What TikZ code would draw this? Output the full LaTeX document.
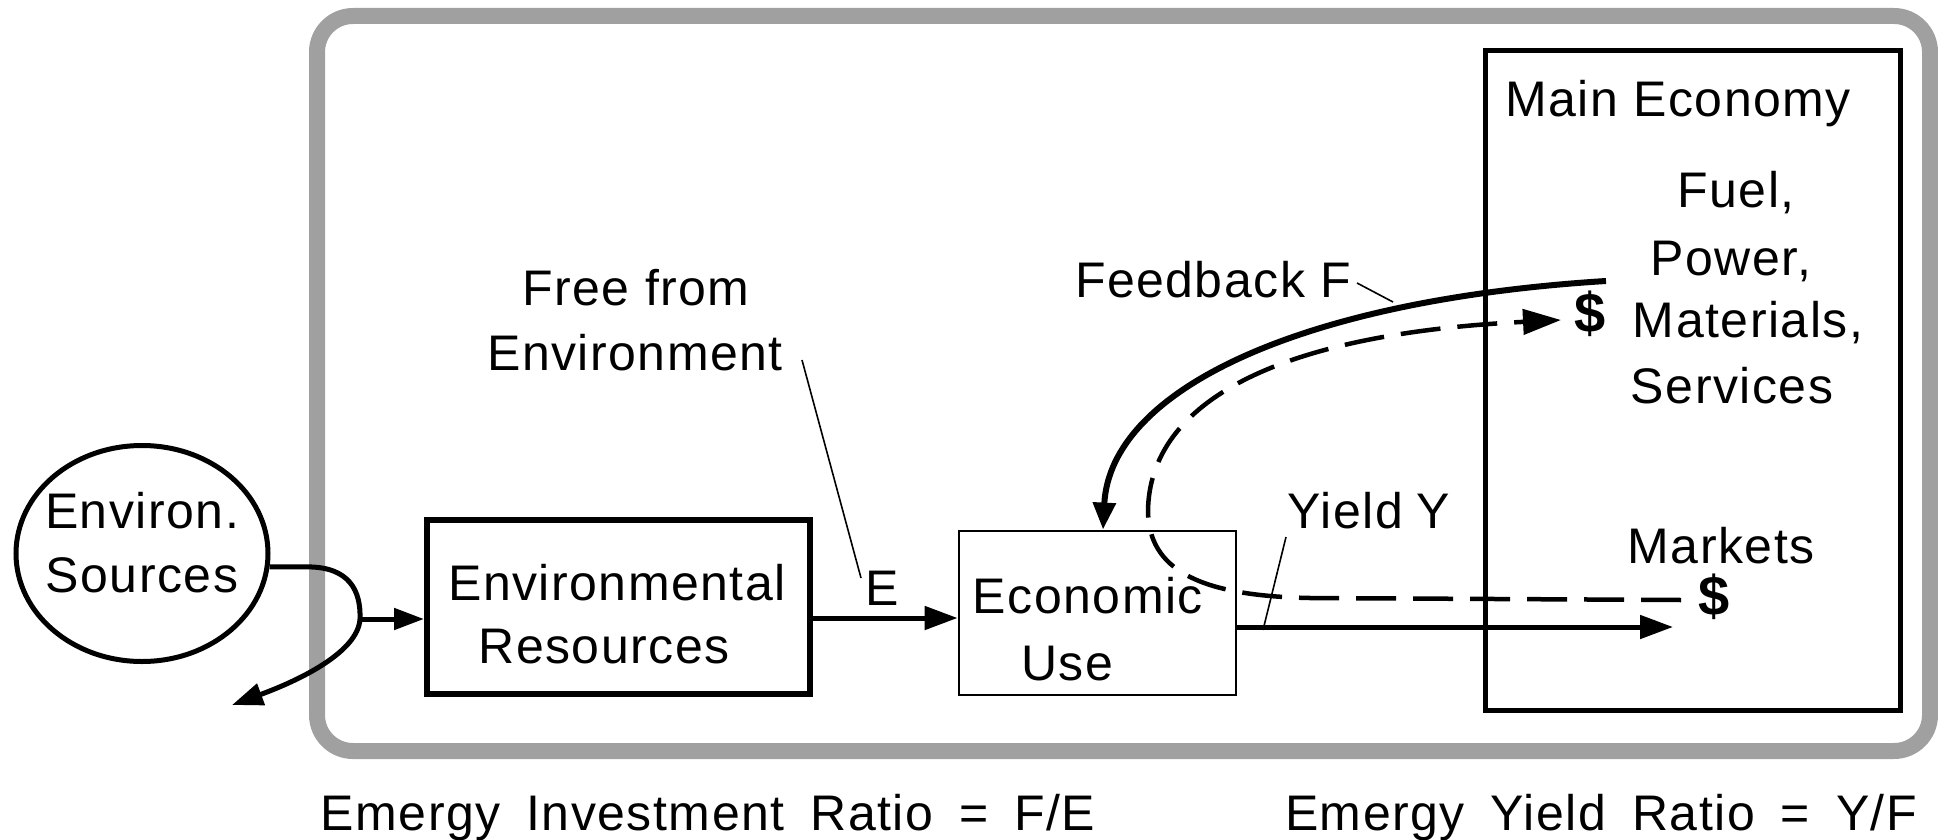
\documentclass[tikz,border=0pt]{standalone}
\usepackage{fontspec}
\setmainfont[LetterSpace=3]{Liberation Sans}
\usetikzlibrary{arrows.meta,shapes.geometric}
\definecolor{framegray}{HTML}{A0A0A0}
\newcommand\mywidesp{\spaceskip=26pt\relax}
\tikzset{
  txt/.style={font=\fontsize{50}{65}\selectfont, inner sep=0pt, anchor=base},
  widetxt/.style={txt, font=\fontsize{50}{65}\selectfont\mywidesp},
  dollar/.style={font=\fontsize{56}{60}\selectfont\bfseries, inner sep=0pt},
  frame/.style={draw=framegray, line width=16pt, rounded corners=36pt},
  thickbox/.style={draw, line width=6pt, inner sep=0pt},
  medbox/.style={draw, line width=5pt, inner sep=0pt},
  thinbox/.style={draw, line width=2.8pt, inner sep=0pt},
  flow/.style={line width=5pt, -{Triangle[length=33pt,width=23pt]}},
  dflow/.style={line width=4.5pt, dash pattern=on 40pt off 17pt, -{Triangle[length=38pt,width=25pt]}},
  leader/.style={line width=1.6pt},
}
\begin{document}
\begin{tikzpicture}[x=1pt,y=-1pt]
\useasboundingbox (0,0) rectangle (1938,840);
% outer frame
\draw[frame] (317,16) rectangle (1930,751);

% nodes
\node[ellipse, draw, line width=5pt, inner sep=0pt, minimum width=252pt, minimum height=216pt] (src) at (142,553.5) {};
\node[txt] (srcA) at (142,528) {Environ.};
\node[txt] (srcB) at (142,592) {Sources};

\node[thickbox, minimum width=383pt, minimum height=174pt] (envres) at (618.5,607) {};
\node[txt] (envresA) at (617,600) {Environmental};
\node[txt] (envresB) at (604,663) {Resources};

\node[thinbox, minimum width=277pt, minimum height=164pt] (econ) at (1097.5,613) {};
\node[txt] (econA) at (1088,613) {Economic};
\node[txt] (econB) at (1067,680) {Use};

\node[medbox, minimum width=415pt, minimum height=659pt] (main) at (1692.5,380.5) {};
\node[txt] (mainA) at (1678,117) {Main Economy};
\node[txt] (fuel) at (1736,207) {Fuel,};
\node[txt] (power) at (1731,275) {Power,};
\node[txt] (mat) at (1748,337) {Materials,};
\node[txt] (serv) at (1732,403) {Services};
\node[txt] (mkts) at (1721,563) {Markets};
\node[dollar] (dolA) at (1590,314) {\$};
\node[dollar] (dolB) at (1714,597) {\$};

\node[txt] (freeA) at (636,305) {Free from};
\node[txt] (freeB) at (635,370) {Environment};
\node[txt] (Elab) at (882,605) {E};
\node[txt] (fbl) at (1213,297) {Feedback F};
\node[txt] (yl) at (1369,528) {Yield\hspace{14pt}Y};

\node[widetxt] (eir) at (708,830) {Emergy Investment Ratio = F/E};
\node[widetxt] (eyr) at (1601,830) {Emergy Yield Ratio = Y/F};

% coordinates
\coordinate (J) at (360,619);
\coordinate (sink) at (232,705);
\coordinate (eY) at (880,618);
\coordinate (yY) at (1400,627);
\coordinate (ytip) at (1673,627);
\coordinate (fstart) at (1606,281);
\coordinate (fx) at (1103,0);
\coordinate (dstart) at (1681,600);
\coordinate (dtip) at (1561,320);
\coordinate (l1a) at (802,360);
\coordinate (l1b) at (861,578);
\coordinate (l2a) at (1357,283);
\coordinate (l2b) at (1393,302);
\coordinate (l3a) at (1286,537);
\coordinate (l3b) at (1263,630);

% flows
\draw[line width=5pt] (src.-6) -- ++(38,0) .. controls +(42,0) and +(1,-28) .. (J);
\draw[flow, -{Triangle[length=31pt,width=22pt]}] (J) .. controls +(-2,33) and +(68,-25) .. (sink);
\draw[flow, -{Triangle[length=30pt,width=21pt]}] (J) -- (envres.west |- J);
\draw[flow] (envres.east |- eY) -- (econ.west |- eY);
\draw[flow] (econ.east |- yY) -- (ytip);
\draw[line width=6pt, -{Triangle[length=27pt,width=22pt]}] (fstart) .. controls (1300,300) and (1110,390) .. (econ.north -| fx);
\draw[dflow] (dstart) -- (1310,598) .. controls (1200,596) and (1148,570) .. (1148,510) .. controls (1150,410) and (1260,335) .. (dtip);

% leaders
\draw[leader] (l1a) -- (l1b);
\draw[leader] (l2a) -- (l2b);
\draw[leader] (l3a) -- (l3b);
\end{tikzpicture}
\end{document}
